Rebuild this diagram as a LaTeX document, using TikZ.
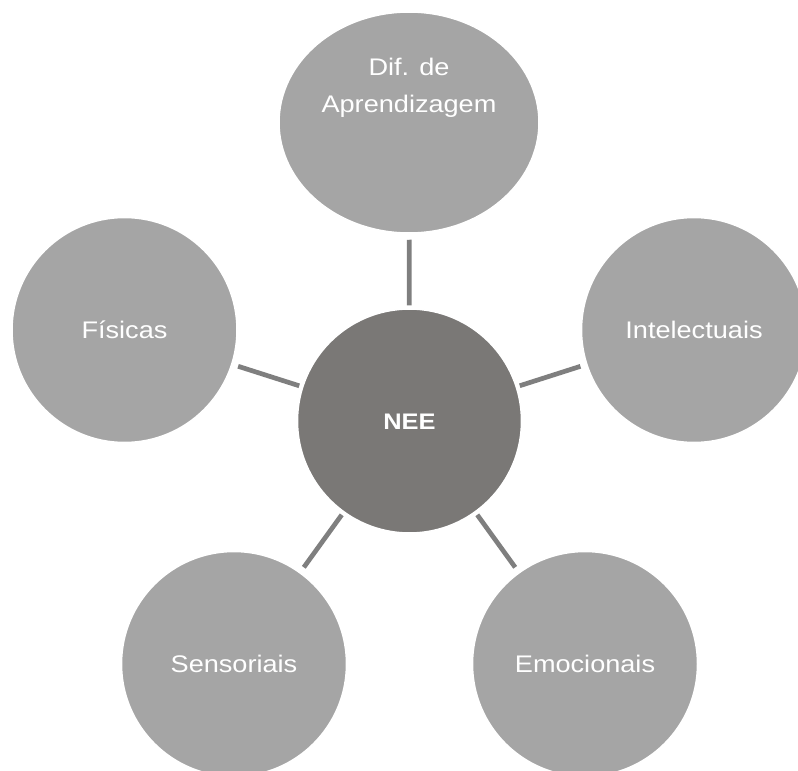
\documentclass[tikz,border=0pt]{standalone}
\usepackage{fontspec}
\setmainfont[FakeStretch=1.13]{Liberation Sans}
\usetikzlibrary{shapes.geometric}
\definecolor{areagray}{HTML}{A5A5A5}
\definecolor{neegray}{HTML}{7A7876}
\definecolor{linkgray}{HTML}{7F7F7F}

\begin{document}
\begin{tikzpicture}[x=1pt,y=-1pt,
    area/.style={circle,fill=areagray,draw=white,line width=1.5pt,minimum
        size=225pt,inner sep=0pt,text=white,font=\fontsize{24}{37}\selectfont,
        text height=17pt,text depth=0pt,align=center},
    link/.style={draw=linkgray,line width=4.7pt,shorten <=3pt,shorten >=6pt}]
    \tikzstyle{core}=[circle,fill=neegray,draw=white,line width=1.5pt,minimum size=224pt,inner sep=0pt,
        text=white,font=\fontsize{22.5}{26}\selectfont\bfseries,
        text height=16pt,text depth=0pt]

    \useasboundingbox (0,0) rectangle (798,771);

    \node[core] (nee) at (409.5,421) {NEE};
    \node[area,ellipse,minimum width=260pt,minimum height=221pt,text depth=37pt] (dif) at (409,122.5) {Dif. de\\Aprendizagem};
    \node[area] (fis) at (124.5,330) {Físicas};
    \node[area] (int) at (694,330) {Intelectuais};
    \node[area] (sen) at (234,664) {Sensoriais};
    \node[area] (emo) at (585,664) {Emocionais};

    \draw[link] (nee) -- (dif);
    \draw[link] (nee) -- (fis);
    \draw[link] (nee) -- (int);
    \draw[link] (nee) -- (sen);
    \draw[link] (nee) -- (emo);

  \end{tikzpicture}
\end{document}
